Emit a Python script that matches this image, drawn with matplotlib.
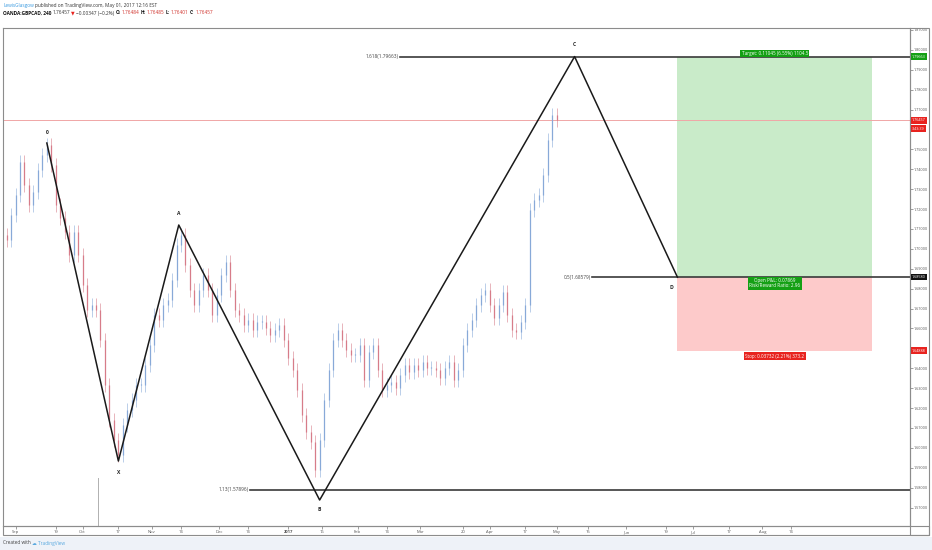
import matplotlib
matplotlib.use("Agg")
import matplotlib.pyplot as plt
import matplotlib.dates as mdates
import matplotlib.transforms as mtransforms
from matplotlib.patches import Rectangle
import pandas as pd

W, H = 932, 550
START = "2016-08-26"  # first bar, one bar every 2 days

closes = [1.7070, 1.7045, 1.7170, 1.7271, 1.7437, 1.7321, 1.7221, 1.7286, 1.7396, 1.7472,
          1.7522, 1.7422, 1.7221, 1.7155, 1.7085, 1.6969, 1.7085, 1.6969, 1.6819, 1.6693,
          1.6718, 1.6693, 1.6542, 1.6316, 1.6140, 1.6040, 1.5964, 1.6115, 1.6190, 1.6241,
          1.6316, 1.6316, 1.6417, 1.6517, 1.6668, 1.6643, 1.6718, 1.6743, 1.6844, 1.7020,
          1.7070, 1.6919, 1.6793, 1.6718, 1.6793, 1.6869, 1.6793, 1.6668, 1.6768, 1.6869,
          1.6934, 1.6793, 1.6693, 1.6668, 1.6618, 1.6643, 1.6592, 1.6633, 1.6633, 1.6603,
          1.6567, 1.6592, 1.6618, 1.6542, 1.6452, 1.6391, 1.6291, 1.6165, 1.6080, 1.6030,
          1.5889, 1.6040, 1.6241, 1.6391, 1.6542, 1.6592, 1.6542, 1.6492, 1.6467, 1.6467,
          1.6517, 1.6341, 1.6482, 1.6517, 1.6391, 1.6291, 1.6316, 1.6331, 1.6301, 1.6366,
          1.6417, 1.6381, 1.6417, 1.6391, 1.6432, 1.6402, 1.6402, 1.6391, 1.6351, 1.6402,
          1.6432, 1.6341, 1.6391, 1.6517, 1.6592, 1.6643, 1.6718, 1.6768, 1.6793, 1.6718,
          1.6653, 1.6718, 1.6783, 1.6668, 1.6592, 1.6582, 1.6633, 1.6718, 1.7195, 1.7246,
          1.7271, 1.7371, 1.7547, 1.7673, 1.76457]

pivot_names = ["0", "X", "A", "B", "C", "D"]
pivot_dates = ["2016-09-15", "2016-10-17", "2016-11-13", "2017-01-15", "2017-05-09", "2017-06-24"]
pivot_prices = [1.7532, 1.5934, 1.7120, 1.5738, 1.79663, 1.68579]

fib_labels = ["1.618(1.79663)", "0.5(1.68579)", "1.13(1.57896)"]
fib_prices = [1.79663, 1.68579, 1.57896]
fib_starts = ["2017-02-20", "2017-05-17", "2016-12-15"]

entry, target, stop = 1.68579, 1.79663, 1.64888
pos_start, pos_end = "2017-06-24", "2017-09-19"
last_price = 1.76457

tick_dates = ["2016-09-01", "2016-09-19", "2016-10-01", "2016-10-17", "2016-11-01", "2016-11-14",
              "2016-12-01", "2016-12-14", "2017-01-01", "2017-01-16", "2017-02-01", "2017-02-14",
              "2017-03-01", "2017-03-20", "2017-04-01", "2017-04-17", "2017-05-01", "2017-05-15",
              "2017-06-01", "2017-06-19", "2017-07-01", "2017-07-17", "2017-08-01", "2017-08-14"]
tick_labels = ["Sep", "19", "Oct", "17", "Nov", "14", "Dec", "14", "2017", "16", "Feb", "14",
               "Mar", "20", "Apr", "17", "May", "15", "Jun", "19", "Jul", "17", "Aug", "14"]

UP = "#88a9d8"
DOWN = "#d77c89"

plt.rcParams["font.family"] = ["Open Sans", "DejaVu Sans"]
fig = plt.figure(figsize=(W / 100, H / 100), dpi=100)
fig.patch.set_facecolor("white")


def fx(px):
    return px / W


def fy(py):
    return 1 - py / H


ax = fig.add_axes([fx(3), fy(526), fx(910) - fx(3), fy(28) - fy(526)])
base = mdates.date2num(pd.Timestamp("2016-09-01"))
ax.set_xlim(base - 5.6, base + 400)
ax.set_ylim(1.56075, 1.811)

# candles
xs = mdates.date2num(pd.date_range(START, periods=len(closes), freq="2D"))
opens = [closes[0] + 0.002] + closes[:-1]
for x, o, c in zip(xs, opens, closes):
    col = UP if c >= o else DOWN
    lo, hi = min(o, c), max(o, c)
    ax.vlines(x, lo - 0.0035, hi + 0.0035, color=col, lw=0.4, zorder=2)
    ax.vlines(x, lo, max(hi, lo + 0.0004), color=col, lw=0.9, zorder=2)

# current price line
ax.axhline(last_price, color="#f0a6a6", lw=0.7, zorder=1)

# vertical marker line
vx = mdates.date2num(pd.Timestamp("2016-10-08"))
ax.plot([vx, vx], [1.56075, 1.585], color="#b0b0b0", lw=0.7, zorder=1)

# position tool
p0 = mdates.date2num(pd.Timestamp(pos_start))
p1 = mdates.date2num(pd.Timestamp(pos_end))
ax.add_patch(Rectangle((p0, entry), p1 - p0, target - entry, fc="#c9ebc9", ec="none", zorder=0))
ax.add_patch(Rectangle((p0, stop), p1 - p0, entry - stop, fc="#fdcaca", ec="none", zorder=0))
pc = (p0 + p1) / 2
ax.text(pc, target + 0.0003, "Target: 0.11045 (6.55%) 1104.5", fontsize=3.3, color="white",
        ha="center", va="bottom", zorder=6,
        bbox=dict(boxstyle="square,pad=0.3", fc="#14a014", ec="none"))
ax.text(pc, entry - 0.0006, "Open P&L: 0.07869\nRisk/Reward Ratio: 2.96", fontsize=3.3,
        color="white", ha="center", va="top", linespacing=1.0, zorder=6,
        bbox=dict(boxstyle="square,pad=0.3", fc="#14a014", ec="none"))
ax.text(pc, stop - 0.0015, "Stop: 0.03732 (2.21%) 373.2", fontsize=3.3, color="white",
        ha="center", va="top", zorder=6,
        bbox=dict(boxstyle="square,pad=0.3", fc="#e8231f", ec="none"))

# fib levels
for lab, price, st in zip(fib_labels, fib_prices, fib_starts):
    s = mdates.date2num(pd.Timestamp(st))
    ax.plot([s, base + 400], [price, price], color="#3a3a3a", lw=1.2, zorder=3)
    ax.text(s - 0.6, price, lab, fontsize=3.4, color="#444444", ha="right", va="center", zorder=4)

# harmonic pattern
pxs = mdates.date2num(pd.to_datetime(pivot_dates))
ax.plot(pxs, pivot_prices, color="#1a1a1a", lw=1.1, zorder=4)
offsets = [(0, 0.0055), (0, -0.0060), (0, 0.0060), (0, -0.0050), (0, 0.0060), (-2.5, -0.0050)]
for name, x, y, (dx, dy) in zip(pivot_names, pxs, pivot_prices, offsets):
    ax.text(x + dx, y + dy, name, fontsize=3.6, weight="bold", color="#222222",
            ha="center", va="center", zorder=5)

# axes style
for sp in ax.spines.values():
    sp.set_color("#8c8c8c")
    sp.set_linewidth(0.8)
ax.yaxis.tick_right()
yt = [round(1.57 + 0.01 * i, 2) for i in range(25)]
hidden = (1.65, 1.76)  # covered by the price tags
ax.set_yticks(yt)
ax.set_yticklabels(["" if v in hidden else "%.5f" % v for v in yt], fontsize=2.7, color="#555555")
ax.tick_params(axis="y", length=2, width=0.5, color="#777777", pad=1)
ax.set_xticks(mdates.date2num(pd.to_datetime(tick_dates)))
ax.set_xticklabels(tick_labels, fontsize=3.0, color="#555555")
for t in ax.get_xticklabels():
    if t.get_text() == "2017":
        t.set_weight("bold")
ax.tick_params(axis="x", length=2, width=0.5, color="#777777", pad=1)

# price scale tags
blend = mtransforms.blended_transform_factory(ax.transAxes, ax.transData)
tags = [(target, "1.79663", "#14a014"), (last_price, "1.76457", "#e8231f"),
        (entry, "1.68580", "#111111"), (stop, "1.64888", "#e8231f")]
for price, txt, col in tags:
    ax.text(1.002, price, txt, transform=blend, fontsize=2.7, color="white", ha="left",
            va="center", zorder=7, clip_on=False,
            bbox=dict(boxstyle="square,pad=0.35", fc=col, ec="none"))
ax.text(1.002, last_price - 0.0042, "3:43:39", transform=blend, fontsize=2.7, color="white",
        ha="left", va="center", zorder=7, clip_on=False,
        bbox=dict(boxstyle="square,pad=0.35", fc="#e8231f", ec="none"))

# scale frames
fig.patches.append(Rectangle((fx(910), fy(535)), fx(929) - fx(910), fy(28) - fy(535),
                             transform=fig.transFigure, fill=False, ec="#8c8c8c", lw=0.8))
fig.patches.append(Rectangle((fx(3), fy(535)), fx(929) - fx(3), fy(526) - fy(535),
                             transform=fig.transFigure, fill=False, ec="#8c8c8c", lw=0.8))
fig.patches.append(Rectangle((0, 0), 1, fy(537), transform=fig.transFigure,
                             fc="#eef2f8", ec="none", zorder=-1))


def put_seq(x, y, parts, size):
    renderer = fig.canvas.get_renderer()
    for s, col, weight in parts:
        t = fig.text(fx(x), fy(y), s, fontsize=size, color=col, weight=weight,
                     ha="left", va="center")
        x += t.get_window_extent(renderer).width + 1.2


put_seq(3, 5, [("LewisGlasgow", "#3c9be0", "normal"),
               ("published on TradingView.com, May 01, 2017 12:16 EST", "#333333", "normal")], 3.4)
put_seq(3, 13, [("OANDA:GBPCAD, 240", "#111111", "bold"), ("1.76457", "#333333", "normal"),
                ("\u25bc", "#e8231f", "normal"), ("\u22120.00347 (\u22120.2%)", "#333333", "normal"),
                ("O:", "#111111", "bold"), ("1.76484", "#d0302a", "normal"),
                ("H:", "#111111", "bold"), ("1.76485", "#d0302a", "normal"),
                ("L:", "#111111", "bold"), ("1.76401", "#d0302a", "normal"),
                ("C:", "#111111", "bold"), ("1.76457", "#d0302a", "normal")], 3.4)
put_seq(3, 543, [("Created with", "#444444", "normal"), ("\u2601 TradingView", "#5aa9df", "normal")], 3.4)

fig.savefig("out.png", dpi=100)
